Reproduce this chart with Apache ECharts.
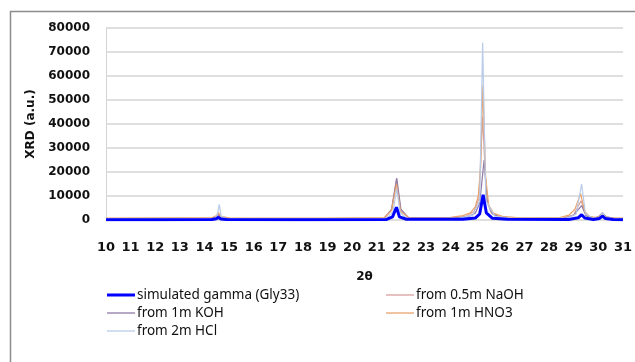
<!DOCTYPE html>
<html>
<head>
<meta charset="utf-8">
<script src="https://cdn.jsdelivr.net/npm/echarts@6/dist/echarts.min.js"></script>
<style>
  html, body { margin: 0; padding: 0; background: #fff; }
  #chart { width: 635px; height: 362px; }
</style>
</head>
<body>
<div id="chart"></div>
<script>
// values, [2theta, intensity]
const simGamma = [
  [10, 150], [12, 150], [14.3, 200], [14.48, 500], [14.57, 1100], [14.66, 450], [14.9, 200],
  [18, 150], [21.4, 250], [21.64, 1300], [21.8, 5300], [21.92, 1300], [22.2, 300],
  [24.5, 300], [25.0, 800], [25.18, 2500], [25.32, 10500], [25.45, 3000], [25.7, 700], [26.3, 300],
  [28.8, 250], [29.18, 900], [29.32, 2200], [29.45, 800], [29.8, 250],
  [30.04, 600], [30.17, 1600], [30.29, 600], [30.6, 200], [31, 150]
];
const naoh = [
  [10, 600], [13, 650], [14.3, 700], [14.48, 1400], [14.58, 2600], [14.68, 1200], [15, 650],
  [19, 600], [21.3, 800], [21.6, 4000], [21.8, 17000], [21.97, 4000], [22.3, 900],
  [24, 800], [24.6, 1500], [24.95, 3500], [25.15, 9000], [25.3, 43000], [25.45, 9000], [25.65, 3000], [26.0, 1300], [26.5, 800],
  [28.6, 800], [29.0, 2200], [29.3, 8000], [29.5, 2000], [29.8, 900],
  [30.0, 1200], [30.17, 2600], [30.32, 1100], [30.7, 700], [31, 650]
];
const koh = [
  [10, 500], [13, 550], [14.3, 600], [14.48, 1100], [14.58, 2000], [14.68, 1000], [15, 550],
  [19, 500], [21.3, 700], [21.6, 4500], [21.81, 17500], [21.98, 4500], [22.3, 800],
  [24, 700], [24.7, 1300], [25.0, 2800], [25.18, 7000], [25.36, 25000], [25.5, 7000], [25.7, 2500], [26.0, 1100], [26.5, 700],
  [28.6, 700], [29.0, 2000], [29.32, 6000], [29.5, 1800], [29.8, 800],
  [30.0, 1300], [30.17, 3000], [30.32, 1300], [30.7, 600], [31, 550]
];
const hno3 = [
  [10, 800], [13, 850], [14.3, 900], [14.47, 1700], [14.57, 3100], [14.67, 1500], [15, 850],
  [19, 750], [21.3, 1000], [21.6, 4000], [21.8, 15000], [21.97, 3500], [22.3, 1000],
  [24, 1100], [24.5, 1800], [24.8, 3000], [25.0, 5500], [25.12, 10000], [25.22, 22000], [25.31, 56000], [25.42, 18000], [25.55, 6000], [25.75, 2800], [26.1, 1500], [26.8, 900],
  [28.4, 900], [28.8, 2000], [29.05, 4500], [29.28, 11000], [29.45, 3500], [29.65, 1500], [29.9, 1000],
  [30.0, 1300], [30.17, 2500], [30.32, 1200], [30.7, 800], [31, 800]
];
const hcl = [
  [10, 500], [13, 550], [14.4, 600], [14.52, 2000], [14.6, 6500], [14.68, 1500], [14.9, 600],
  [19, 500], [21.4, 700], [21.66, 3500], [21.81, 13000], [21.95, 3000], [22.2, 700],
  [24.3, 700], [24.9, 2000], [25.18, 8000], [25.3, 74000], [25.43, 8000], [25.8, 1500], [26.5, 700],
  [28.7, 700], [29.1, 2500], [29.32, 15000], [29.48, 2500], [29.8, 700],
  [30.04, 1000], [30.17, 3000], [30.3, 1000], [30.7, 600], [31, 550]
];

const names = ['simulated gamma (Gly33)', 'from 0.5m NaOH', 'from 1m KOH', 'from 1m HNO3', 'from 2m HCl'];
const colors = ['#0000ff', '#d8a09c', '#8e7aa8', '#e8a46c', '#b8cbe8'];
const widths = [3, 1.2, 1.2, 1.2, 1.2];
const seriesData = [simGamma, naoh, koh, hno3, hcl];
// legend spots (icon left, top)
const legendPos = [[107, 288], [386, 288], [107, 306], [386, 306], [107, 324]];

const font = 'DejaVu Sans';
const chart = echarts.init(document.getElementById('chart'));

const series = seriesData.map((d, i) => ({
  name: names[i],
  type: 'line',
  data: d,
  symbol: 'none',
  smooth: false,
  z: i === 0 ? 10 : 2 + i,
  lineStyle: { color: colors[i], width: widths[i] },
  itemStyle: { color: colors[i] }
}));
// simulated drawn last so it sits on top
const ordered = series.slice(1).concat(series[0]);

const legends = names.map((n, i) => ({
  data: [n],
  left: legendPos[i][0],
  top: legendPos[i][1],
  orient: 'horizontal',
  icon: 'rect',
  itemWidth: 28,
  itemHeight: widths[i] > 2 ? 3 : 1.3,
  itemGap: 2,
  padding: 0,
  selectedMode: false,
  textStyle: { fontFamily: 'Noto Sans', fontSize: 13.5, color: '#111', padding: [0, 0, 0, -3] }
}));

chart.setOption({
  animation: false,
  backgroundColor: '#fff',
  graphic: [{
    type: 'rect',
    shape: { x: 10.5, y: 11.5, width: 700, height: 400 },
    style: { fill: 'none', stroke: '#8c8c8c', lineWidth: 1.5 },
    silent: true
  }],
  grid: { left: 106, right: 12, top: 28, bottom: 142, containLabel: false },
  xAxis: {
    type: 'value',
    min: 10, max: 31, interval: 1,
    name: '2θ',
    nameLocation: 'middle',
    nameGap: 51,
    nameTextStyle: { fontFamily: font, fontWeight: 'bold', fontSize: 12, color: '#111' },
    axisLine: { show: false },
    axisTick: { show: false },
    splitLine: { show: false },
    axisLabel: {
      fontFamily: font, fontWeight: 'bold', fontSize: 13, color: '#111', margin: 21,
      formatter: function (v) { return String(v); }
    }
  },
  yAxis: {
    type: 'value',
    min: 0, max: 80000, interval: 10000,
    name: 'XRD (a.u.)',
    nameLocation: 'middle',
    nameGap: 68,
    nameRotate: 90,
    nameTextStyle: { fontFamily: font, fontWeight: 'bold', fontSize: 12, color: '#111' },
    axisLine: { show: true, lineStyle: { color: '#d4d4d4', width: 1 } },
    axisTick: { show: false },
    splitLine: { lineStyle: { color: '#d4d4d4', width: 1.5 } },
    axisLabel: {
      fontFamily: font, fontWeight: 'bold', fontSize: 12, color: '#111', margin: 16,
      formatter: function (v) { return String(v); }
    }
  },
  legend: legends,
  series: ordered
});
</script>
</body>
</html>
